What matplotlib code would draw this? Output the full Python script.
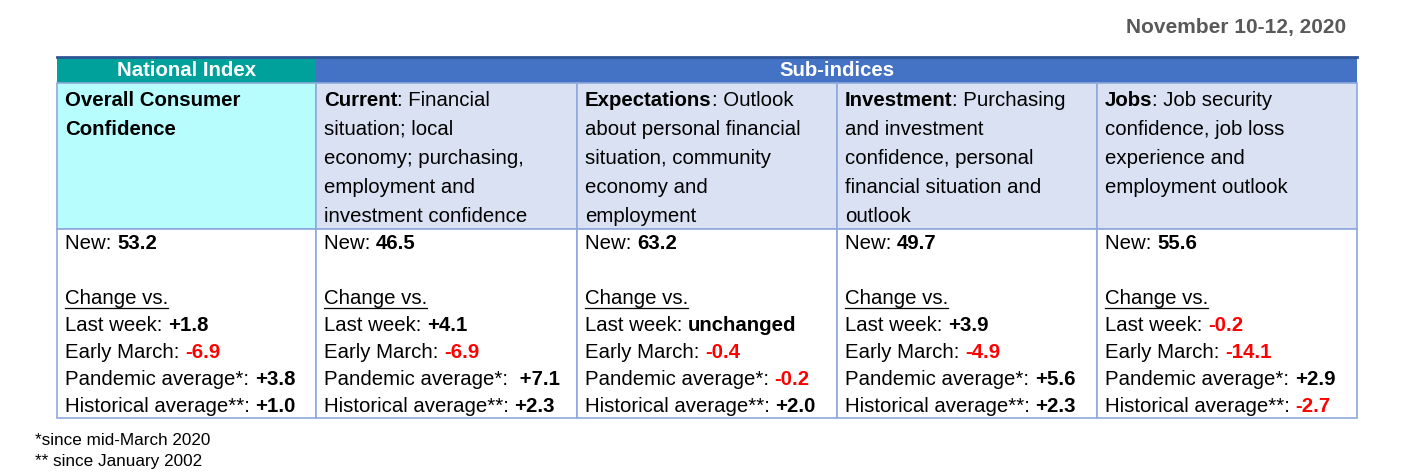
import matplotlib
matplotlib.use("Agg")
import matplotlib.pyplot as plt
from matplotlib.patches import Rectangle

W, H = 1428, 473
FONT = "Liberation Sans"
FS = 14.7
RED = "#FF0000"

date_label = "November 10-12, 2020"
group_labels = ["National Index", "Sub-indices"]
col_titles = ["Overall Consumer\nConfidence", "Current", "Expectations", "Investment", "Jobs"]
col_desc = [
    "",
    ": Financial\nsituation; local\neconomy; purchasing,\nemployment and\ninvestment confidence",
    ": Outlook\nabout personal financial\nsituation, community\neconomy and\nemployment",
    ": Purchasing\nand investment\nconfidence, personal\nfinancial situation and\noutlook",
    ": Job security\nconfidence, job loss\nexperience and\nemployment outlook",
]
new_values = ["53.2", "46.5", "63.2", "49.7", "55.6"]
row_labels = ["Last week: ", "Early March: ", "Pandemic average*: ", "Historical average**: "]
changes = [
    ["+1.8", "-6.9", "+3.8", "+1.0"],
    ["+4.1", "-6.9", " +7.1", "+2.3"],
    ["unchanged", "-0.4", "-0.2", "+2.0"],
    ["+3.9", "-4.9", "+5.6", "+2.3"],
    ["-0.2", "-14.1", "+2.9", "-2.7"],
]
footnotes = ["*since mid-March 2020", "** since January 2002"]

fig = plt.figure(figsize=(W / 100, H / 100), dpi=100)
ax = fig.add_axes([0, 0, 1, 1])
ax.set_xlim(0, W)
ax.set_ylim(H, 0)
ax.axis("off")
fig.canvas.draw()
renderer = fig.canvas.get_renderer()


def run(x, y, parts, fs=FS):
    # draw text pieces one after another on the same baseline
    for s, weight, color in parts:
        t = ax.text(x, y, s, fontsize=fs, fontfamily=FONT, fontweight=weight,
                    color=color, va="center", ha="left")
        x += t.get_window_extent(renderer).width
    return x


xs = [57, 316, 577, 837, 1097, 1357]
border = "#8EA9DB"

# header row
ax.add_patch(Rectangle((xs[0], 57), xs[1] - xs[0], 26, fc="#00A19B", ec="none"))
ax.add_patch(Rectangle((xs[1], 57), xs[5] - xs[1], 26, fc="#4472C4", ec="none"))
ax.plot([xs[0], xs[5]], [57, 57], color="#2F5597", lw=2)
ax.text((xs[0] + xs[1]) / 2, 70, group_labels[0], color="white", fontweight="bold",
        fontsize=FS, fontfamily=FONT, ha="center", va="center")
ax.text((xs[1] + xs[5]) / 2, 70, group_labels[1], color="white", fontweight="bold",
        fontsize=FS, fontfamily=FONT, ha="center", va="center")

# description row + data row
for i in range(5):
    fc = "#B7FDFD" if i == 0 else "#D9E1F2"
    ax.add_patch(Rectangle((xs[i], 83), xs[i + 1] - xs[i], 146, fc=fc, ec=border, lw=1.2))
    ax.add_patch(Rectangle((xs[i], 229), xs[i + 1] - xs[i], 189, fc="white", ec=border, lw=1.2))

line_h = 29
for i in range(5):
    x0 = xs[i] + 8
    if i == 0:
        for k, ln in enumerate(col_titles[0].split("\n")):
            run(x0, 100 + k * line_h, [(ln, "bold", "black")])
        continue
    lines = col_desc[i].split("\n")
    run(x0, 100, [(col_titles[i], "bold", "black"), (lines[0], "normal", "black")])
    for k, ln in enumerate(lines[1:], start=1):
        run(x0, 100 + k * line_h, [(ln, "normal", "black")])

# data cells
for i in range(5):
    x0 = xs[i] + 8
    run(x0, 243, [("New: ", "normal", "black"), (new_values[i], "bold", "black")])
    t = ax.text(x0, 298, "Change vs.", fontsize=FS, fontfamily=FONT, va="center", ha="left")
    bb = t.get_window_extent(renderer)
    ax.plot([x0, x0 + bb.width], [308, 308], color="black", lw=0.9)
    for r, lab in enumerate(row_labels):
        v = changes[i][r]
        col = RED if v.strip().startswith("-") else "black"
        run(x0, 325 + r * 27, [(lab, "normal", "black"), (v, "bold", col)])

ax.text(1346, 27, date_label, fontsize=15, fontfamily=FONT, fontweight="bold",
        color="#595959", ha="right", va="center")
for k, fn in enumerate(footnotes):
    ax.text(35, 440 + k * 21, fn, fontsize=12.3, fontfamily=FONT, ha="left", va="center")

fig.savefig("out.png", dpi=100)
